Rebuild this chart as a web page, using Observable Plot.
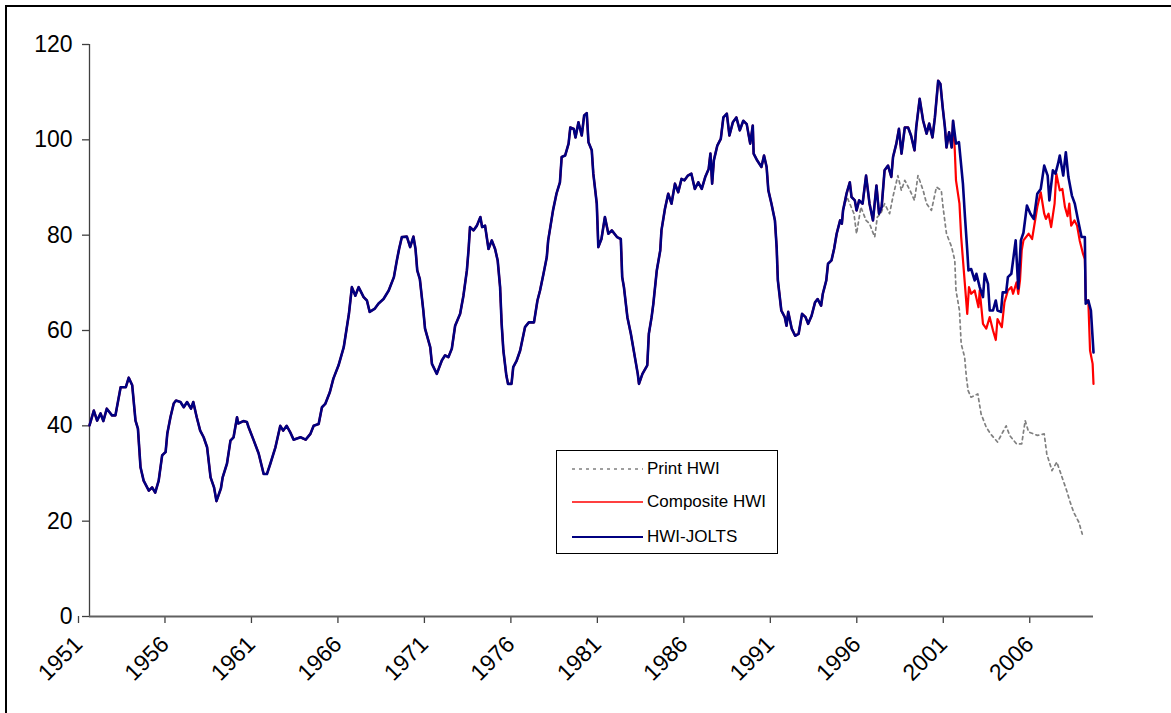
<!DOCTYPE html>
<html>
<head>
<meta charset="utf-8">
<script src="https://cdn.jsdelivr.net/npm/d3@7"></script>
<script src="https://cdn.jsdelivr.net/npm/@observablehq/plot@0.6"></script>
<style>
  html, body { margin: 0; padding: 0; background: #fff; overflow: hidden; }
  body { width: 1171px; height: 713px; position: relative; font-family: "Liberation Sans", Arial, sans-serif; }
  #frame { position: absolute; left: 5px; top: 5px; width: 1200px; height: 760px; border-top: 2px solid #000; border-left: 2px solid #000; }
  #chart { position: absolute; left: 0; top: 0; }
  #legend { position: absolute; left: 556px; top: 450px; width: 222px; height: 104px; box-sizing: border-box; border: 1px solid #000; background: #fff; }
  .row { position: absolute; left: 0; height: 20px; width: 220px; }
  .row svg { position: absolute; left: 15px; top: 0; }
  .row span { position: absolute; left: 90px; top: 0; line-height: 20px; font-size: 17px; color: #000; white-space: nowrap; }
</style>
</head>
<body>
<div id="frame"></div>
<div id="chart"></div>
<div id="legend"></div>
<script>
// ---- Data ----
// Shared history 1951 - mid 1994 (all three series coincide here)
const sharedYears = [1951.00,1951.25,1951.44,1951.64,1951.80,1952.00,1952.30,1952.50,1952.80,1953.10,1953.27,1953.47,1953.66,1953.80,1953.95,1954.13,1954.43,1954.62,1954.80,1955.00,1955.20,1955.40,1955.50,1955.68,1955.87,1956.00,1956.26,1956.45,1956.64,1956.87,1957.00,1957.20,1957.40,1957.60,1957.80,1958.00,1958.20,1958.34,1958.60,1958.70,1958.95,1959.15,1959.33,1959.53,1959.60,1959.90,1960.10,1960.20,1960.50,1960.78,1961.07,1961.26,1961.46,1961.75,1962.03,1962.20,1962.40,1962.60,1962.80,1963.20,1963.50,1963.77,1963.96,1964.25,1964.44,1964.63,1964.90,1965.10,1965.40,1965.70,1966.00,1966.17,1966.37,1966.56,1966.85,1967.04,1967.20,1967.50,1967.70,1968.00,1968.30,1968.60,1968.77,1968.90,1969.06,1969.35,1969.54,1969.73,1969.85,1969.95,1970.10,1970.30,1970.40,1970.70,1970.80,1971.08,1971.37,1971.56,1971.75,1971.95,1972.14,1972.43,1972.62,1972.82,1972.92,1973.00,1973.20,1973.40,1973.60,1973.70,1973.87,1974.07,1974.26,1974.45,1974.60,1974.74,1974.83,1974.93,1975.10,1975.20,1975.40,1975.50,1975.70,1975.90,1976.18,1976.40,1976.70,1976.90,1977.05,1977.25,1977.44,1977.52,1977.80,1978.00,1978.20,1978.30,1978.50,1978.70,1978.80,1979.00,1979.10,1979.27,1979.46,1979.60,1979.75,1979.85,1980.04,1980.13,1980.33,1980.42,1980.60,1980.80,1981.00,1981.20,1981.50,1981.72,1981.80,1981.90,1982.10,1982.30,1982.60,1982.70,1982.77,1982.97,1983.25,1983.34,1983.50,1983.60,1983.80,1984.00,1984.07,1984.27,1984.46,1984.65,1984.85,1985.04,1985.23,1985.40,1985.60,1985.80,1986.00,1986.20,1986.40,1986.60,1986.80,1986.90,1987.00,1987.10,1987.30,1987.50,1987.65,1987.85,1988.00,1988.20,1988.40,1988.60,1988.80,1989.00,1989.20,1989.35,1989.40,1989.60,1989.85,1990.00,1990.15,1990.25,1990.43,1990.63,1990.73,1990.80,1991.00,1991.20,1991.30,1991.40,1991.60,1991.80,1992.00,1992.20,1992.40,1992.55,1992.75,1992.95,1993.10,1993.30,1993.40,1993.60,1993.70,1993.90,1994.05,1994.20,1994.40,1994.50,1994.57];
const sharedHWI = [40.1,43.2,41.1,42.6,41.0,43.6,42.2,42.2,48.1,48.1,50.1,48.5,41.1,39.4,31.3,28.5,26.4,27.1,26.0,28.5,33.8,34.5,38.4,41.8,44.7,45.3,45.0,43.9,45.0,43.6,45.0,41.8,39.0,37.6,35.5,29.2,27.1,24.2,26.9,29.2,32.1,36.9,37.6,41.8,40.5,41.0,40.8,39.7,36.9,34.2,29.9,29.9,32.1,35.5,40.0,39.0,40.0,38.7,37.1,37.6,37.1,38.3,40.0,40.4,43.9,44.6,47.1,49.9,52.7,56.5,63.5,69.1,67.3,69.1,67.0,66.3,63.9,64.6,65.6,66.6,68.4,71.2,74.7,77.1,79.6,79.7,77.5,79.7,77.1,72.6,70.8,64.2,60.4,56.5,53.0,50.9,53.7,54.8,54.4,56.2,61.0,63.5,67.3,72.6,77.1,81.7,81.0,82.0,83.8,81.7,82.0,77.1,78.9,77.1,74.7,69.1,61.4,55.8,50.6,48.8,48.8,52.3,53.7,55.8,60.7,61.7,61.7,66.3,68.4,71.9,75.4,78.9,85.2,88.7,91.1,96.4,96.7,99.2,102.6,102.3,100.5,103.7,100.9,105.1,105.6,99.5,97.8,92.9,86.6,77.5,79.2,83.8,80.3,81.0,79.6,79.2,71.2,69.1,62.8,59.3,53.0,50.9,48.8,50.9,52.7,59.3,62.8,65.6,72.6,76.8,81.0,85.5,88.7,86.6,90.8,89.0,91.8,91.5,92.5,92.9,89.7,91.1,89.7,92.2,93.9,97.1,90.8,95.7,98.8,100.2,104.7,105.5,100.9,103.7,104.7,102.0,104.0,103.3,99.2,103.0,97.1,95.7,94.3,96.7,94.3,89.4,86.6,83.1,77.5,70.5,64.2,62.8,61.0,63.9,60.4,58.9,59.3,63.5,62.8,61.4,63.1,65.9,66.6,65.2,67.7,70.5,74.0,74.7,77.1,80.3,83.1,82.4,85.2];

// Print HWI after mid 1994
const printYears = [1994.80,1995.20,1995.35,1995.60,1995.90,1996.10,1996.40,1996.55,1996.75,1996.97,1997.26,1997.45,1997.74,1997.94,1998.14,1998.40,1998.70,1998.90,1999.20,1999.40,1999.68,1999.97,2000.25,2000.35,2000.55,2000.85,2001.03,2001.10,2001.30,2001.40,2001.60,2001.70,2001.80,2001.97,2002.36,2002.55,2002.85,2003.10,2003.50,2004.00,2004.20,2004.60,2004.90,2005.10,2005.30,2005.80,2006.20,2006.35,2006.65,2006.93,2007.10,2007.30,2007.50,2007.70,2007.90,2008.20,2008.40];
const printHWI = [88.0,84.5,80.3,85.9,83.1,82.4,79.6,83.8,84.5,86.6,84.5,88.0,92.5,89.4,91.5,89.7,87.3,92.5,89.4,86.6,85.2,90.1,89.4,85.9,80.3,77.5,74.7,68.4,64.2,57.2,54.4,50.2,47.4,46.0,46.7,42.5,39.7,38.3,36.6,40.0,38.0,36.2,36.2,41.1,38.7,38.0,38.3,34.1,30.6,32.4,30.6,28.5,26.4,24.0,21.9,19.8,17.3];

// HWI-JOLTS after mid 1994
const joltsYears = [1994.77,1994.96,1995.06,1995.25,1995.35,1995.50,1995.70,1995.90,1996.10,1996.30,1996.50,1996.65,1996.80,1996.97,1997.17,1997.36,1997.46,1997.65,1997.80,1997.95,1998.14,1998.33,1998.50,1998.70,1998.80,1999.00,1999.20,1999.40,1999.55,1999.74,1999.88,2000.07,2000.20,2000.33,2000.46,2000.55,2000.70,2000.85,2000.93,2001.10,2001.27,2001.50,2001.62,2001.75,2001.82,2001.98,2002.18,2002.28,2002.47,2002.66,2002.76,2002.95,2003.05,2003.24,2003.40,2003.50,2003.70,2003.80,2004.00,2004.10,2004.30,2004.40,2004.55,2004.70,2004.85,2005.00,2005.20,2005.40,2005.60,2005.80,2006.00,2006.20,2006.40,2006.50,2006.70,2006.85,2007.00,2007.10,2007.30,2007.45,2007.60,2007.80,2007.97,2008.16,2008.36,2008.55,2008.60,2008.75,2008.90,2009.05];
const joltsHWI = [88.7,91.1,88.0,87.3,85.2,87.3,86.6,92.5,86.6,83.1,90.4,84.5,85.9,93.6,94.6,92.2,96.4,99.2,102.3,97.1,102.6,102.6,100.9,97.8,102.6,108.6,104.0,101.3,103.4,100.5,104.7,112.4,111.7,106.8,102.6,98.4,101.6,98.4,104.0,99.2,99.5,90.8,83.8,76.8,72.6,72.9,70.5,71.9,69.1,67.0,71.9,69.8,64.2,64.2,66.3,64.2,63.9,68.0,68.0,71.2,71.9,74.7,78.9,68.8,78.9,80.5,86.2,84.5,83.4,88.7,89.7,94.6,92.5,87.3,93.6,92.9,95.0,96.7,92.5,97.4,92.2,88.3,86.6,83.1,79.6,79.6,65.6,66.3,64.2,55.4];

// Composite HWI after mid 1994
const compositeYears = [1994.77,1994.96,1995.06,1995.25,1995.35,1995.50,1995.70,1995.90,1996.10,1996.30,1996.50,1996.65,1996.80,1996.97,1997.17,1997.36,1997.46,1997.65,1997.80,1997.95,1998.14,1998.33,1998.50,1998.70,1998.80,1999.00,1999.20,1999.40,1999.55,1999.74,1999.88,2000.07,2000.20,2000.33,2000.46,2000.55,2000.70,2000.85,2000.93,2001.03,2001.10,2001.30,2001.40,2001.55,2001.75,2001.85,2001.98,2002.18,2002.40,2002.47,2002.66,2002.85,2003.05,2003.24,2003.40,2003.50,2003.75,2003.90,2004.10,2004.30,2004.40,2004.60,2004.70,2004.80,2004.90,2005.00,2005.30,2005.50,2005.80,2006.00,2006.20,2006.30,2006.45,2006.60,2006.80,2006.90,2007.10,2007.25,2007.40,2007.55,2007.65,2007.76,2007.95,2008.10,2008.25,2008.45,2008.55,2008.60,2008.75,2008.85,2009.00,2009.05];
const compositeHWI = [88.7,91.1,88.0,87.3,85.2,87.3,86.6,92.5,86.6,83.1,90.4,84.5,85.9,93.6,94.6,92.2,96.4,99.2,102.3,97.1,102.6,102.6,100.9,97.8,102.6,108.6,104.0,101.3,103.4,100.5,104.7,112.4,111.7,106.8,102.6,98.4,101.6,98.4,104.0,97.8,91.5,86.6,79.6,72.6,63.5,69.1,67.7,68.4,64.9,68.4,61.4,60.4,62.8,60.0,58.0,62.4,60.7,65.9,68.4,69.1,67.7,70.1,67.7,70.5,76.8,78.9,80.3,79.2,85.9,89.0,84.5,83.4,84.5,81.7,86.6,92.9,89.4,89.7,85.9,84.0,86.6,82.0,83.1,82.0,78.9,76.0,75.0,66.3,66.3,55.8,53.0,48.8];

const xTicks = [1951,1956,1961,1966,1971,1976,1981,1986,1991,1996,2001,2006];
const yTicks = [0,20,40,60,80,100,120];
const seriesNames = ["Print HWI","Composite HWI","HWI-JOLTS"];

// ---- Build tables ----
const toRows = (ys, vs) => ys.map((t, i) => ({t, v: vs[i]}));
const shared = toRows(sharedYears, sharedHWI);
const printRows = shared.concat(toRows(printYears, printHWI));
const compositeRows = shared.concat(toRows(compositeYears, compositeHWI));
const joltsRows = shared.concat(toRows(joltsYears, joltsHWI));

const colors = {"Print HWI": "#808080", "Composite HWI": "#ff0000", "HWI-JOLTS": "#000080"};
const axisColor = "#404040";

const chart = Plot.plot({
  width: 1171,
  height: 713,
  marginLeft: 89,
  marginRight: 78,
  marginTop: 44,
  marginBottom: 97,
  style: {fontFamily: "'Liberation Sans', Arial, sans-serif", fontSize: "23px", color: "#000", background: "transparent", overflow: "visible"},
  x: {domain: [1951, 2009.05]},
  y: {domain: [0, 120]},
  marks: [
    Plot.axisY({ticks: yTicks, tickSize: 7, tickPadding: 10, label: null, stroke: axisColor, strokeWidth: 1.3, fontSize: 23}),
    Plot.axisX({ticks: xTicks, tickFormat: d => String(d), tickRotate: -45, tickSize: 7, tickPadding: 17, dx: -11, label: null, stroke: axisColor, strokeWidth: 1.3, fontSize: 23}),
    Plot.ruleX([1951], {stroke: axisColor, strokeWidth: 1.3}),
    Plot.ruleY([0], {stroke: "#606060", strokeWidth: 2}),
    Plot.line(printRows, {x: "t", y: "v", stroke: colors["Print HWI"], strokeWidth: 1.7, strokeDasharray: "3,3.5"}),
    Plot.line(compositeRows, {x: "t", y: "v", stroke: colors["Composite HWI"], strokeWidth: 2.2}),
    Plot.line(joltsRows, {x: "t", y: "v", stroke: colors["HWI-JOLTS"], strokeWidth: 2.6})
  ]
});
document.getElementById("chart").appendChild(chart);

// ---- Legend ----
const legend = document.getElementById("legend");
const rowTops = [8, 41, 76];
seriesNames.forEach((name, i) => {
  const row = document.createElement("div");
  row.className = "row";
  row.style.top = rowTops[i] + "px";
  const dash = name === "Print HWI" ? ' stroke-dasharray="3,4"' : "";
  const w = name === "Print HWI" ? 1.6 : (name === "HWI-JOLTS" ? 2 : 1.6);
  row.innerHTML = `<svg width="72" height="20"><line x1="0" x2="71" y1="10" y2="10" stroke="${colors[name]}" stroke-width="${w}"${dash}/></svg><span>${name}</span>`;
  legend.appendChild(row);
});
</script>
</body>
</html>
